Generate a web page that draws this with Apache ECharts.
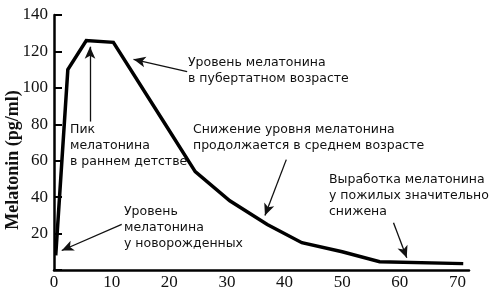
<!DOCTYPE html>
<html>
<head>
<meta charset="utf-8">
<script src="https://cdn.jsdelivr.net/npm/echarts@6/dist/echarts.min.js"></script>
<style>
html,body{margin:0;padding:0;background:#fff;}
#chart{width:489px;height:291px;}
</style>
</head>
<body>
<div id="chart"></div>
<script>
// Data
const ages = [0.3, 2.4, 5.6, 10.3, 19, 24.5, 30.5, 37, 43, 50, 56.5, 71];
const melatonin = [8, 110, 126, 125, 81.5, 54, 38, 25, 15, 10, 4.5, 3.5];
const xTicks = [0, 10, 20, 30, 40, 50, 60, 70];
const yTicks = [20, 40, 60, 80, 100, 120, 140];
const yAxisTitle = 'Melatonin (pg/ml)';

// Annotation texts
const noteTexts = [
  'Уровень мелатонина\nв пубертатном возрасте',
  'Пик\nмелатонина\nв раннем детстве',
  'Снижение уровня мелатонина\nпродолжается в среднем возрасте',
  'Выработка мелатонина\nу пожилых значительно\nснижена',
  'Уровень\nмелатонина\nу новорожденных'
];
// Arrow [fromAge, fromValue] -> [toAge, toValue] in data units
const arrowFrom = [[23.1, 108.9], [6.25, 81.5], [40.3, 60.6], [58.9, 25.9], [11.75, 25]];
const arrowTo   = [[13.8, 115.7], [6.25, 122.6], [36.6, 29.9], [61.2, 6.7], [1.34, 10.7]];

const notePos = [[188, 54.5], [70, 122], [193, 121.5], [329, 171.5], [124, 203.5]];

const chart = echarts.init(document.getElementById('chart'), null, {renderer: 'canvas'});

const serif = '"Liberation Serif", "Times New Roman", serif';
const sans = '"DejaVu Sans", Verdana, sans-serif';

chart.setOption({
  animation: false,
  backgroundColor: '#fff',
  grid: {left: 54, right: 20, top: 15, bottom: 20.5, containLabel: false},
  xAxis: {
    type: 'value', min: 0, max: 72, interval: 10,
    axisLine: {show: true, onZero: false, lineStyle: {color: '#000', width: 2.5}},
    axisTick: {show: false},
    splitLine: {show: false},
    axisLabel: {
      fontFamily: serif, fontSize: 17, color: '#111', margin: 4,
      formatter: v => (xTicks.indexOf(v) >= 0 ? String(v) : '')
    }
  },
  yAxis: {
    type: 'value', min: 0, max: 140, interval: 20,
    axisLine: {show: true, onZero: false, lineStyle: {color: '#000', width: 2.5}},
    axisTick: {show: true, inside: true, length: 8, lineStyle: {color: '#000', width: 2}},
    splitLine: {show: false},
    axisLabel: {
      fontFamily: serif, fontSize: 17, color: '#111', margin: 6,
      formatter: v => (yTicks.indexOf(v) >= 0 ? String(v) : '')
    }
  },
  series: [{
    type: 'line',
    data: ages.map((a, i) => [a, melatonin[i]]),
    showSymbol: false,
    symbol: 'none',
    clip: false,
    lineStyle: {color: '#000', width: 3.5, join: 'miter'},
    markLine: {
      silent: true,
      symbol: ['none', 'arrow'],
      symbolSize: [8, 12],
      label: {show: false},
      lineStyle: {color: '#111', width: 1.3, type: 'solid'},
      emphasis: {disabled: true},
      data: arrowFrom.map((f, i) => [{coord: f}, {coord: arrowTo[i]}])
    }
  }],
  graphic: [
    {
      type: 'text', x: 13, y: 160, rotation: Math.PI / 2,
      style: {text: yAxisTitle, font: 'bold 18px ' + serif, fill: '#111', align: 'center', verticalAlign: 'middle'}
    }
  ].concat(noteTexts.map((t, i) => ({
    type: 'text', x: notePos[i][0], y: notePos[i][1],
    style: {text: t, font: '12.5px ' + sans, lineHeight: 16, fill: '#111', align: 'left', verticalAlign: 'top'}
  })))
});
</script>
</body>
</html>
